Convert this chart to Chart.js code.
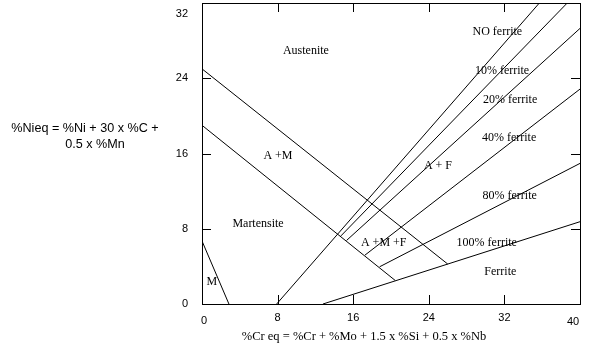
<!DOCTYPE html>
<html>
<head>
<meta charset="utf-8">
<script src="https://cdn.jsdelivr.net/npm/chart.js@4"></script>
<style>
  body { margin: 0; background: white; }
  #diagrama { display: block; }
</style>
</head>
<body>
<canvas id="diagrama" width="605" height="360"></canvas>
<script>
const xTicks = [0, 8, 16, 24, 32, 40]
const yTicks = [0, 8, 16, 24, 32]

// limit lines, [Cr eq, Ni eq]
const austeniteLine = [[0, 25], [26, 4.25]]
const martensiteLine = [[0, 19], [20.45, 2.5]]
const mLine = [[0, 6.7], [2.85, 0]]
const noFerrite = [[7.9, 0], [35.7, 32]]
const ferrite10 = [[14.7, 7.24], [38.65, 32]]
const ferrite20 = [[15.3, 6.76], [40, 29.3]]
const ferrite40 = [[17.25, 5.2], [40, 22.85]]
const ferrite80 = [[18.8, 3.96], [40, 14.95]]
const ferrite100 = [[12.8, 0], [40, 8.75]]

const regionNames = ['Austenite', 'NO ferrite', '10% ferrite', '20% ferrite', '40% ferrite', 'A + F',
    'A +M', 'Martensite', '80% ferrite', 'A +M +F', '100% ferrite', 'Ferrite', 'M']
const regionCr = [11.0, 31.25, 31.75, 32.6, 32.5, 24.97, 8.04, 5.93, 32.56, 19.23, 30.13, 31.57, 1.03]
const regionNi = [26.9, 28.9, 24.8, 21.7, 17.7, 14.67, 15.73, 8.47, 11.51, 6.45, 6.45, 3.37, 2.31]

const xTitle = '%Cr eq = %Cr + %Mo + 1.5 x %Si + 0.5 x %Nb'
const yTitle = ['%Nieq = %Ni + 30 x %C +', '0.5 x %Mn']

const lines = [austeniteLine, martensiteLine, mLine, noFerrite, ferrite10, ferrite20, ferrite40, ferrite80, ferrite100]

const datasets = lines.map((linea) => {
    return {
        data: linea.map((p) => ({ x: p[0], y: p[1] })),
        showLine: true,
        borderColor: 'black',
        borderWidth: 1,
        pointRadius: 0,
        fill: false
    }
})

// small nudges of a few tick labels, as in the original picture
const marco = {
    id: 'marco',
    beforeDraw(chart) {
        chart.scales.y.getLabelItems().forEach((it) => {
            if (it.label === '32' && !it.movido) { it.options.translation[1] += 11; it.movido = true }
        })
        chart.scales.x.getLabelItems().forEach((it) => {
            if (it.movido) return
            if (it.label === '0') { it.options.translation[0] += 2; it.options.translation[1] += 3 }
            if (it.label === '40') { it.options.translation[0] -= 7; it.options.translation[1] += 4 }
            it.movido = true
        })
    },
    afterDraw(chart) {
        const ctx = chart.ctx
        const a = chart.chartArea
        const sx = chart.scales.x
        const sy = chart.scales.y
        ctx.save()
        ctx.strokeStyle = 'black'
        ctx.lineWidth = 1
        ctx.strokeRect(a.left + 0.5, a.top + 0.5, a.right - a.left, a.bottom - a.top)

        ctx.beginPath()
        xTicks.slice(1, -1).forEach((v) => {
            const px = Math.round(sx.getPixelForValue(v)) + 0.5
            ctx.moveTo(px, a.top); ctx.lineTo(px, a.top + 9)
            ctx.moveTo(px, a.bottom); ctx.lineTo(px, a.bottom - 9)
        })
        yTicks.slice(1, -1).forEach((v) => {
            const py = Math.round(sy.getPixelForValue(v)) + 0.5
            ctx.moveTo(a.left, py); ctx.lineTo(a.left + 9, py)
            ctx.moveTo(a.right, py); ctx.lineTo(a.right - 9, py)
        })
        ctx.stroke()

        ctx.fillStyle = 'black'
        ctx.textAlign = 'center'
        ctx.textBaseline = 'middle'
        ctx.font = '12px "Liberation Serif"'
        regionNames.forEach((nombre, i) => {
            ctx.fillText(nombre, sx.getPixelForValue(regionCr[i]), sy.getPixelForValue(regionNi[i]))
        })

        ctx.font = '12.5px "Liberation Serif"'
        ctx.fillText(xTitle, 364, 337)
        ctx.font = '12.6px "Liberation Sans"'
        ctx.fillText(yTitle[0], 85, 129)
        ctx.fillText(yTitle[1], 95, 145)
        ctx.restore()
    }
}

const config = {
    type: 'scatter',
    data: { datasets },
    options: {
        responsive: false,
        animation: false,
        layout: { padding: { left: 0, top: 3, right: 25, bottom: 0 } },
        plugins: { legend: { display: false }, tooltip: { enabled: false } },
        scales: {
            x: {
                type: 'linear',
                min: 0,
                max: 40,
                afterBuildTicks: (s) => { s.ticks = xTicks.map((v) => ({ value: v })) },
                afterFit: (s) => { s.height = 56; s.paddingLeft = 0; s.paddingRight = 0 },
                grid: { display: false, drawTicks: false },
                border: { display: false },
                ticks: { color: 'black', padding: 7, maxRotation: 0, font: { family: 'Liberation Sans', size: 11 } }
            },
            y: {
                type: 'linear',
                min: 0,
                max: 32,
                afterBuildTicks: (s) => { s.ticks = yTicks.map((v) => ({ value: v })) },
                afterFit: (s) => { s.width = 202; s.paddingTop = 0; s.paddingBottom = 0 },
                grid: { display: false, drawTicks: false },
                border: { display: false },
                ticks: { color: 'black', padding: 14, font: { family: 'Liberation Sans', size: 11 } }
            }
        }
    },
    plugins: [marco]
}

new Chart(document.querySelector('#diagrama'), config)
</script>
</body>
</html>
